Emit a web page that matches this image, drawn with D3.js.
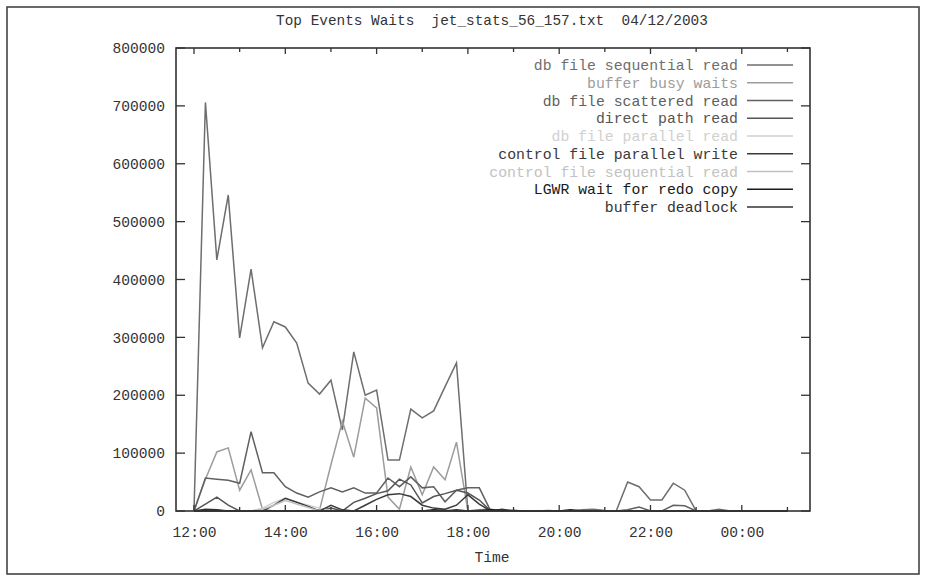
<!DOCTYPE html>
<html>
<head>
<meta charset="utf-8">
<script src="https://cdn.jsdelivr.net/npm/d3@7"></script>
<style>
  html, body { margin: 0; padding: 0; background: #fff; }
  svg { display: block; }
  text { font-family: "Liberation Mono", "DejaVu Sans Mono", monospace; white-space: pre; }
</style>
</head>
<body>
<svg id="chart" width="926" height="581"></svg>
<script>
// ---- data ----
const times = [
  "12:00","12:15","12:30","12:45","13:00","13:15","13:30","13:45",
  "14:00","14:15","14:30","14:45","15:00","15:15","15:30","15:45",
  "16:00","16:15","16:30","16:45","17:00","17:15","17:30","17:45",
  "18:00","18:15","18:30","18:45","19:00","19:15","19:30","19:45",
  "20:00","20:15","20:30","20:45","21:00","21:15","21:30","21:45",
  "22:00","22:15","22:30","22:45","23:00","23:15","23:30","23:45",
  "00:00","00:15","00:30","00:45","01:00"
];
const seriesNames = [
  "db file sequential read","buffer busy waits","db file scattered read",
  "direct path read","db file parallel read","control file parallel write",
  "control file sequential read","LGWR wait for redo copy","buffer deadlock"
];
const seriesColors = ["#6e6e6e","#9c9c9c","#606060","#555555","#d0d0d0","#3a3a3a","#c2c2c2","#1a1a1a","#333333"];

const dbFileSequentialRead = [0,706000,434000,546000,299000,418000,282000,327000,318000,290000,221000,202000,226000,140000,275000,200000,209000,88000,88000,176000,161000,173000,215000,256000,0,2000,3000,0,1000,0,0,1000,0,0,2000,3000,1000,0,50000,42000,19000,19000,48000,36000,0,0,3000,0,0,0,0,0,0];
const bufferBusyWaits      = [0,55000,102000,109000,36000,71000,3000,0,0,0,0,2000,80000,155000,93000,195000,178000,24000,3000,76000,28000,76000,54000,119000,0,0,0,0,0,0,0,0,0,0,0,0,0,0,0,0,0,0,0,0,0,0,0,0,0,0,0,0,0];
const dbFileScatteredRead  = [0,57000,55000,53000,48000,137000,66000,66000,42000,31000,24000,33000,40000,33000,40000,31000,31000,57000,42000,59000,40000,42000,16000,36000,40000,40000,0,0,0,0,0,0,0,0,0,0,0,0,2000,7000,0,0,10000,9000,0,0,0,0,0,0,0,0,0];
const directPathRead       = [0,12000,24000,10000,0,0,0,0,0,0,0,0,5000,0,15000,22000,30000,35000,55000,45000,14000,25000,30000,36000,31000,19000,0,0,0,0,0,0,0,0,0,0,0,0,0,0,0,0,0,0,0,0,0,0,0,0,0,0,0];
const dbFileParallelRead   = [0,0,0,0,0,0,5000,15000,22000,15000,10000,5000,0,0,0,0,0,0,0,0,0,0,0,0,0,0,0,0,0,0,0,0,0,0,0,0,0,0,0,0,0,0,0,0,0,0,0,0,0,0,0,0,0];
const controlFileParWrite  = [0,3000,2000,0,0,0,0,10000,22000,15000,8000,0,10000,2000,0,10000,20000,28000,30000,25000,10000,5000,3000,10000,28000,12000,0,3000,0,0,0,0,0,0,0,0,0,0,0,0,0,0,0,0,0,0,0,0,0,0,0,0,0];
const controlFileSeqRead   = [0,0,0,0,0,0,3000,10000,18000,12000,6000,0,0,0,0,0,0,0,0,0,0,0,0,0,0,0,0,0,0,0,0,0,0,0,0,0,0,0,0,0,0,0,0,0,0,0,0,0,0,0,0,0,0];
const lgwrWaitForRedoCopy  = [0,1000,1000,0,0,0,0,0,0,0,0,0,0,0,0,0,0,0,0,0,0,2000,1000,0,0,0,2000,1000,1000,0,0,0,0,2000,0,0,0,0,0,0,0,0,0,0,0,0,0,0,0,0,0,0,0];
const bufferDeadlock       = [0,0,0,0,0,0,0,0,0,0,0,0,0,0,0,0,0,0,0,0,0,0,0,2000,0,0,0,0,0,0,0,0,0,0,0,0,0,0,0,0,0,0,0,0,0,0,0,0,0,0,0,0,0];
const yTicks = [0,100000,200000,300000,400000,500000,600000,700000,800000];
const xLabelHours = ["12:00","14:00","16:00","18:00","20:00","22:00","00:00"];
const titleText = "Top Events Waits  jet_stats_56_157.txt  04/12/2003";
const xAxisTitle = "Time";

const allSeries = [dbFileSequentialRead,bufferBusyWaits,dbFileScatteredRead,directPathRead,
  dbFileParallelRead,controlFileParWrite,controlFileSeqRead,lgwrWaitForRedoCopy,bufferDeadlock];

// ---- helpers ----
function toDate(s) {
  const [h, m] = s.split(":").map(Number);
  const day = h < 12 ? 13 : 12;
  return new Date(2003, 3, day, h, m);
}
const dates = times.map(toDate);

// ---- layout ----
const svg = d3.select("#chart");
const L = 176, R = 810, T = 48, B = 511;

const x = d3.scaleTime()
  .domain([new Date(2003,3,12,11,36,20), new Date(2003,3,13,1,29,40)])
  .range([L, R]);
const y = d3.scaleLinear().domain([0, 800000]).range([B, T]);

// outer frame
svg.append("rect").attr("x", 7).attr("y", 7).attr("width", 912).attr("height", 567)
  .attr("fill", "none").attr("stroke", "#444").attr("stroke-width", 1.6);

// title
svg.append("text").attr("x", 492).attr("y", 25).attr("text-anchor", "middle")
  .attr("font-size", 14.4).attr("fill", "#333").attr("xml:space", "preserve").text(titleText);

// lines
const line = d3.line().x((d, i) => x(dates[i])).y(d => y(d));
allSeries.forEach((vals, k) => {
  svg.append("path").datum(vals).attr("d", line)
    .attr("fill", "none").attr("stroke", seriesColors[k])
    .attr("stroke-width", 1.5).attr("stroke-linejoin", "miter");
});

// axes: ticks pointing inward, mirrored
const hourTicks = d3.timeHour.every(1).range(x.domain()[0], x.domain()[1]);
const labelSet = new Set(xLabelHours);
const fmt = d3.timeFormat("%H:%M");

const axBottom = d3.axisBottom(x).tickValues(hourTicks)
  .tickSize(0).tickFormat(d => labelSet.has(fmt(d)) ? fmt(d) : "");
const gB = svg.append("g").attr("transform", `translate(0,${B})`).call(axBottom);
gB.select(".domain").remove();
gB.selectAll("text").attr("font-size", 14.6).attr("fill", "#333").attr("dy", "1.55em")
  .style("font-family", '"Liberation Mono", monospace');

const tickG = svg.append("g").attr("stroke", "#333").attr("stroke-width", 1.3);
hourTicks.forEach(d => {
  const len = labelSet.has(fmt(d)) ? 6 : 4;
  tickG.append("line").attr("x1", x(d)).attr("x2", x(d)).attr("y1", B).attr("y2", B - len);
  tickG.append("line").attr("x1", x(d)).attr("x2", x(d)).attr("y1", T).attr("y2", T + len);
});
yTicks.forEach(v => {
  tickG.append("line").attr("x1", L).attr("x2", L + 9).attr("y1", y(v)).attr("y2", y(v));
  tickG.append("line").attr("x1", R).attr("x2", R - 9).attr("y1", y(v)).attr("y2", y(v));
});

const axLeft = d3.axisLeft(y).tickValues(yTicks).tickSize(0).tickPadding(11).tickFormat(d3.format("d"));
const gL = svg.append("g").attr("transform", `translate(${L},0)`).call(axLeft);
gL.select(".domain").remove();
gL.selectAll("text").attr("font-size", 14.6).attr("fill", "#333")
  .style("font-family", '"Liberation Mono", monospace');

// plot border
svg.append("rect").attr("x", L).attr("y", T).attr("width", R - L).attr("height", B - T)
  .attr("fill", "none").attr("stroke", "#333").attr("stroke-width", 1.6);

// x axis title
svg.append("text").attr("x", 492).attr("y", 562).attr("text-anchor", "middle")
  .attr("font-size", 14.6).attr("fill", "#333").text(xAxisTitle);

// legend
const legY0 = 65, legStep = 17.75;
seriesNames.forEach((name, k) => {
  const yy = legY0 + k * legStep;
  svg.append("text").attr("x", 738).attr("y", yy).attr("dy", "0.35em")
    .attr("text-anchor", "end").attr("font-size", 14.8).attr("fill", seriesColors[k]).text(name);
  svg.append("line").attr("x1", 747).attr("x2", 793).attr("y1", yy).attr("y2", yy)
    .attr("stroke", seriesColors[k]).attr("stroke-width", 1.4);
});
</script>
</body>
</html>
